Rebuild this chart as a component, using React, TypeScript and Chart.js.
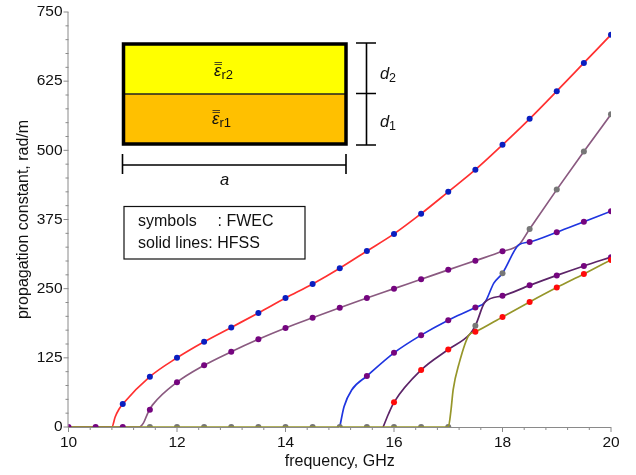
import React, { useEffect, useRef } from "react";
import { Chart, registerables } from "chart.js";

Chart.register(...registerables);

const FONT = '"Liberation Sans", Arial, sans-serif';

// FWEC symbols: [frequency, propagation constant]
const symbolsBlue: number[][] = [[11, 41.5], [11.5, 91], [12, 125], [12.5, 154], [13, 180], [13.5, 206], [14, 233], [14.5, 258.5], [15, 287], [15.5, 318], [16, 349], [16.5, 385.5], [17, 425], [17.5, 465], [18, 510], [18.5, 557], [19, 607], [19.5, 658], [20, 709]];
const symbolsPurpleUpper: number[][] = [[10, 0], [10.5, 0], [11, 0], [11.5, 31], [12, 81], [12.5, 111.5], [13, 136], [13.5, 158.5], [14, 179], [14.5, 197.5], [15, 215.6], [15.5, 233], [16, 250], [16.5, 267], [17, 284], [17.5, 300.6], [18, 317.5], [18.5, 334.4], [19, 352], [19.5, 371], [20, 390]];
const symbolsPurpleLower: number[][] = [[15.5, 92], [16, 134], [16.5, 166], [17, 193], [17.5, 216], [18, 237], [18.5, 256], [19, 274], [19.5, 291], [20, 307]];
const symbolsRed: number[][] = [[16, 44.6], [16.5, 103], [17, 140], [17.5, 172], [18, 199], [18.5, 226], [19, 252], [19.5, 276.5], [20, 302]];
const symbolsGrey: number[][] = [[11.5, 0], [12, 0], [12.5, 0], [13, 0], [13.5, 0], [14, 0], [14.5, 0], [15, 0], [15.5, 0], [16, 0], [16.5, 0], [17, 0], [17.5, 183], [18, 278], [18.5, 358], [19, 429], [19.5, 498], [20, 565]];

// HFSS solid lines: [frequency, propagation constant]
const lineRed: number[][] = [[10, 0], [10.8, 0], [10.86, 18], [10.93, 32], [11, 41.5], [11.5, 91], [12, 125], [12.5, 154], [13, 180], [13.5, 206], [14, 233], [14.5, 258.5], [15, 287], [15.5, 318], [16, 349], [16.5, 385.5], [17, 425], [17.5, 465], [18, 510], [18.5, 557], [19, 607], [19.5, 658], [20, 709]];
const lineBrown: number[][] = [[10, 0], [11.3, 0], [11.38, 7], [11.47, 27], [11.55, 40], [12, 81], [12.5, 111.5], [13, 136], [13.5, 158.5], [14, 179], [14.5, 197.5], [15, 215.6], [15.5, 233], [16, 250], [16.5, 267], [17, 284], [17.5, 300.6], [18, 317.5], [18.3, 329], [18.5, 358], [19, 429], [19.5, 498], [20, 565]];
const lineBlue: number[][] = [[15, 0], [15.08, 37], [15.22, 67], [15.5, 92], [16, 134], [16.5, 166], [17, 193], [17.5, 216], [17.68, 226], [17.84, 260], [18, 278], [18.3, 329], [18.5, 334.4], [19, 352], [19.5, 371], [20, 390]];
const lineDarkPurple: number[][] = [[15.8, 0], [15.9, 24], [16, 44.6], [16.5, 103], [17, 140], [17.4, 168], [17.5, 183], [17.68, 226], [18, 237], [18.5, 256], [19, 274], [19.5, 291], [20, 307]];
const lineOlive: number[][] = [[10, 0], [17, 0], [17.05, 30], [17.09, 67], [17.2, 115], [17.38, 166], [17.5, 172], [18, 199], [18.5, 226], [19, 252], [19.5, 276.5], [20, 302]];

const yTickLabels = [0, 125, 250, 375, 500, 625, 750];
const xTickLabels = [10, 12, 14, 16, 18, 20];
const xTitle = "frequency, GHz";
const yTitle = "propagation constant, rad/m";

const pts = (a: number[][]) => a.map(([x, y]) => ({ x, y }));

const line = (data: number[][], color: string, order: number) => ({
  data: pts(data),
  showLine: true,
  borderColor: color,
  backgroundColor: color,
  borderWidth: 1.7,
  pointRadius: 0,
  cubicInterpolationMode: "monotone",
  order,
});
const marks = (data: number[][], color: string, order: number) => ({
  data: pts(data),
  showLine: false,
  borderColor: color,
  backgroundColor: color,
  pointRadius: 3,
  pointBorderWidth: 0,
  order,
});

const axisTicks = {
  id: "axisTicks",
  beforeDatasetsDraw(chart: any) {
    const { ctx, scales } = chart;
    const { x, y } = scales;
    ctx.save();
    ctx.strokeStyle = "#8a8a8a";
    ctx.lineWidth = 1;
    ctx.beginPath();
    ctx.moveTo(x.left - 0.5, y.top);
    ctx.lineTo(x.left - 0.5, y.bottom + 0.5);
    ctx.lineTo(x.right, y.bottom + 0.5);
    x.ticks.forEach((t: any) => {
      const px = x.getPixelForValue(t.value);
      const major = xTickLabels.includes(Math.round(t.value * 10) / 10);
      ctx.moveTo(px, y.bottom);
      ctx.lineTo(px, y.bottom + (major ? 5 : 3));
    });
    y.ticks.forEach((t: any) => {
      const py = y.getPixelForValue(t.value);
      const major = yTickLabels.includes(t.value);
      ctx.moveTo(x.left, py);
      ctx.lineTo(x.left - (major ? 5 : 3), py);
    });
    ctx.stroke();
    ctx.restore();
  },
};

const inset = {
  id: "inset",
  afterDraw(chart: any) {
    const ctx = chart.ctx;
    ctx.save();
    // waveguide cross-section
    ctx.fillStyle = "#ffff00";
    ctx.fillRect(123, 44, 223, 50);
    ctx.fillStyle = "#ffc000";
    ctx.fillRect(123, 94, 223, 50);
    ctx.strokeStyle = "#222";
    ctx.lineWidth = 1.3;
    ctx.beginPath();
    ctx.moveTo(123, 94);
    ctx.lineTo(346, 94);
    ctx.stroke();
    ctx.strokeStyle = "#000";
    ctx.lineWidth = 3.5;
    ctx.strokeRect(123.5, 44, 222.5, 100);
    // dimension lines
    ctx.lineWidth = 1.6;
    ctx.beginPath();
    [43, 93.5, 145].forEach((yy) => {
      ctx.moveTo(356, yy);
      ctx.lineTo(376, yy);
    });
    ctx.moveTo(366.5, 43);
    ctx.lineTo(366.5, 145);
    ctx.moveTo(122.5, 165);
    ctx.lineTo(346, 165);
    ctx.moveTo(122.5, 154);
    ctx.lineTo(122.5, 174);
    ctx.moveTo(346, 154);
    ctx.lineTo(346, 174);
    ctx.stroke();

    ctx.fillStyle = "#111";
    ctx.textBaseline = "alphabetic";
    ctx.textAlign = "left";
    const italic = `italic 16.5px ${FONT}`;
    const plain = `16px ${FONT}`;
    const sub = `12.5px ${FONT}`;
    ctx.font = italic;
    ctx.fillText("a", 220, 185);
    ctx.fillText("d", 380, 79);
    ctx.fillText("d", 380, 127);
    ctx.font = sub;
    ctx.fillText("2", 389, 82);
    ctx.fillText("1", 389, 130);

    // permittivity labels
    const eps = (xx: number, yy: number, s: string) => {
      ctx.font = italic;
      ctx.fillText("\u03b5", xx, yy);
      ctx.font = `13px ${FONT}`;
      ctx.fillText(s, xx + 7.5, yy + 3);
      ctx.strokeStyle = "#222";
      ctx.lineWidth = 0.8;
      ctx.beginPath();
      ctx.moveTo(xx + 0.5, yy - 11.5);
      ctx.lineTo(xx + 8, yy - 11.5);
      ctx.moveTo(xx + 0.5, yy - 13.5);
      ctx.lineTo(xx + 8, yy - 13.5);
      ctx.stroke();
    };
    eps(214, 76, "r2");
    eps(212, 124, "r1");

    // note box
    ctx.strokeStyle = "#111";
    ctx.lineWidth = 1.2;
    ctx.strokeRect(124, 206.5, 181, 52.5);
    ctx.font = plain;
    ctx.fillText("symbols", 138, 226);
    ctx.fillText(": FWEC", 217.5, 226);
    ctx.fillText("solid lines: HFSS", 138, 248);
    ctx.restore();
  },
};

export default function App() {
  const ref = useRef<HTMLCanvasElement>(null);
  useEffect(() => {
    document.body.style.margin = "0";
    const chart = new Chart(ref.current as HTMLCanvasElement, {
      type: "scatter",
      data: {
        datasets: [
          marks(symbolsBlue, "#0a1ec0", 1),
          marks(symbolsRed, "#ff0a0a", 2),
          marks(symbolsPurpleLower, "#75057f", 3),
          marks(symbolsPurpleUpper, "#75057f", 3),
          line(lineOlive, "#96962a", 4),
          marks(symbolsGrey, "#777777", 5),
          line(lineDarkPurple, "#5c2468", 6),
          line(lineBlue, "#1f35e0", 7),
          line(lineBrown, "#8a5a80", 8),
          line(lineRed, "#ff3030", 9),
        ] as any,
      },
      options: {
        animation: false,
        responsive: false,
        layout: { padding: { top: 12, right: 25, left: 0, bottom: 0 } },
        plugins: { legend: { display: false }, tooltip: { enabled: false } },
        scales: {
          x: {
            type: "linear",
            min: 10,
            max: 20,
            afterFit: (s: any) => {
              s.height = 48;
              s.paddingLeft = 0;
              s.paddingRight = 0;
            },
            grid: { display: false, drawTicks: false },
            border: { display: false },
            ticks: {
              stepSize: 0.4,
              autoSkip: false,
              maxRotation: 0,
              padding: 6,
              color: "#111",
              font: { family: FONT, size: 15.5 },
              callback: (v: any) => {
                const r = Math.round(v * 10) / 10;
                return xTickLabels.includes(r) ? String(r) : "";
              },
            },
            title: {
              display: true,
              text: xTitle,
              color: "#111",
              padding: { top: 0, bottom: 4 },
              font: { family: FONT, size: 16 },
            },
          },
          y: {
            min: 0,
            max: 750,
            afterFit: (s: any) => {
              s.width = 68.5;
              s.paddingTop = 0;
              s.paddingBottom = 0;
            },
            grid: { display: false, drawTicks: false },
            border: { display: false },
            ticks: {
              stepSize: 25,
              autoSkip: false,
              padding: 6,
              color: "#111",
              font: { family: FONT, size: 15.5 },
              callback: (v: any) => (yTickLabels.includes(v) ? String(v) : ""),
            },
            title: {
              display: true,
              text: yTitle,
              color: "#111",
              padding: { top: 14, bottom: 0 },
              font: { family: FONT, size: 16 },
            },
          },
        },
      },
      plugins: [axisTicks, inset],
    } as any);
    return () => chart.destroy();
  }, []);
  return (
    <div style={{ width: 636, height: 475, background: "#fff" }}>
      <canvas ref={ref} width={636} height={475} style={{ display: "block" }} />
    </div>
  );
}
